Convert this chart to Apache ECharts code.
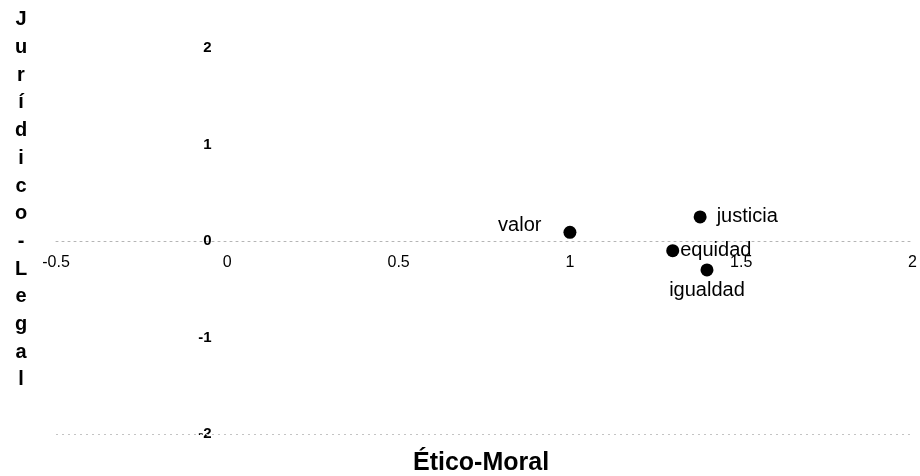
<!DOCTYPE html>
<html>
<head>
<meta charset="utf-8">
<script src="https://cdn.jsdelivr.net/npm/echarts@6/dist/echarts.min.js"></script>
<style>
  html, body { margin: 0; padding: 0; background: #fff; }
  #chart { width: 920px; height: 476px; }
</style>
</head>
<body>
<div id="chart"></div>
<script>
const names = ['valor', 'justicia', 'equidad', 'igualdad']
const xVals = [1.0, 1.38, 1.30, 1.40]
const yVals = [0.09, 0.25, -0.10, -0.30]

const xTicks = [-0.5, 0, 0.5, 1, 1.5, 2]
const yTicks = [-2, -1, 0, 1, 2]

const xTitle = 'Ético-Moral'
const yTitle = 'Jurídico-Legal'

// where each word sits around its dot
const labelPlace = {
  valor: { position: 'left', distance: 22, offset: [0, -7] },
  justicia: { position: 'right', distance: 10 },
  equidad: { position: 'right', distance: 1 },
  igualdad: { position: 'bottom', distance: 4 }
}

const chart = echarts.init(document.getElementById('chart'))

const points = names.map((n, i) => ({
  name: n,
  value: [xVals[i], yVals[i]],
  label: Object.assign({ show: true }, labelPlace[n])
}))

// axes cross at the origin; onZero does not carry the labels along, so shift them
const gridBox = { left: 56, right: 6, top: 48, bottom: 42 }
const plotW = 920 - gridBox.left - gridBox.right
const plotH = 476 - gridBox.top - gridBox.bottom
const xSpan = xTicks[xTicks.length - 1] - xTicks[0]
const ySpan = yTicks[yTicks.length - 1] - yTicks[0]
const yAxisShift = -plotW * (0 - xTicks[0]) / xSpan
const xAxisShift = -plotH * (0 - yTicks[0]) / ySpan

const option = {
  backgroundColor: '#fff',
  animation: false,
  textStyle: { fontFamily: 'Liberation Sans, Arial, sans-serif' },
  grid: gridBox,
  xAxis: {
    type: 'value',
    min: xTicks[0],
    max: xTicks[xTicks.length - 1],
    interval: 0.5,
    offset: xAxisShift,
    axisLine: {
      show: true,
      onZero: false,
      lineStyle: { color: '#b5b5b5', type: [2, 4], width: 1 }
    },
    axisTick: { show: false },
    splitLine: { show: false },
    axisLabel: {
      color: '#000',
      fontSize: 16,
      margin: 14,
      formatter: v => String(v)
    }
  },
  yAxis: {
    type: 'value',
    min: yTicks[0],
    max: yTicks[yTicks.length - 1],
    interval: 1,
    offset: yAxisShift,
    axisLine: { show: false, onZero: false },
    axisTick: { show: false },
    splitLine: { show: false },
    axisLabel: {
      color: '#000',
      fontSize: 15,
      fontWeight: 'bold',
      margin: 16
    }
  },
  graphic: [
    {
      type: 'text',
      left: 413,
      top: 451,
      style: {
        text: xTitle,
        fill: '#000',
        font: 'bold 25px "Liberation Sans", Arial, sans-serif'
      }
    },
    {
      type: 'text',
      x: 21,
      y: 6,
      style: {
        text: yTitle.split('').join('\n'),
        fill: '#000',
        align: 'center',
        verticalAlign: 'top',
        lineHeight: 27.7,
        font: 'bold 20px "Liberation Sans", Arial, sans-serif'
      }
    }
  ],
  series: [
    {
      type: 'scatter',
      symbol: 'circle',
      symbolSize: 13,
      itemStyle: { color: '#000', opacity: 1 },
      label: {
        color: '#000',
        fontSize: 20,
        formatter: p => p.name
      },
      markLine: {
        silent: true,
        symbol: 'none',
        label: { show: false },
        lineStyle: { color: '#c4c4c4', type: [2, 4], width: 1 },
        data: [{ yAxis: -2 }]
      },
      data: points
    }
  ]
}

chart.setOption(option)
</script>
</body>
</html>
